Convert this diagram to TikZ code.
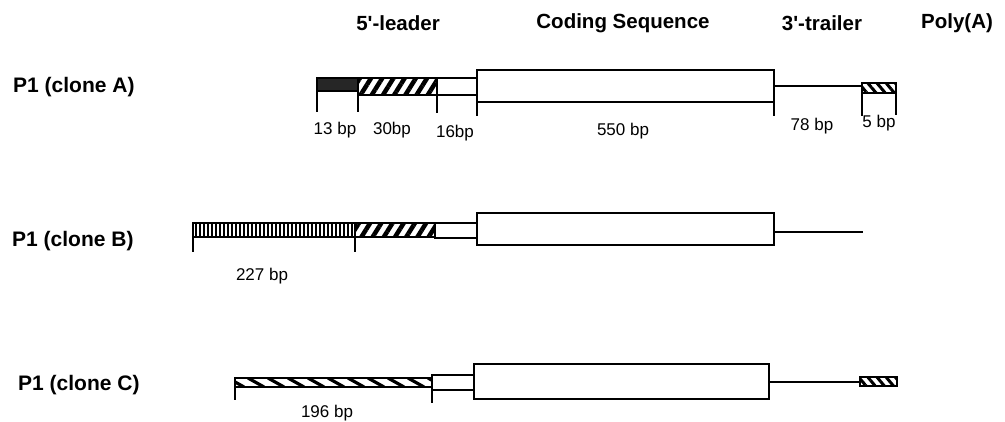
\documentclass[tikz,border=0pt]{standalone}
\usepackage{fontspec}
\newfontfamily\lib{Liberation Sans}
\usetikzlibrary{patterns.meta}
\tikzset{
  seg/.style={draw, line width=2pt, inner sep=0pt, outer sep=0pt, anchor=north west},
  tick/.style={line width=2pt},
  wire/.style={line width=2pt},
  hdr/.style={font=\lib\bfseries\fontsize{20.5}{24}\selectfont, inner sep=0pt, anchor=base},
  rowlab/.style={font=\lib\bfseries\fontsize{21}{25}\selectfont, inner sep=0pt, anchor=base west},
  bplab/.style={font=\lib\fontsize{17}{20}\selectfont, inner sep=0pt, anchor=base},
  dark/.style={fill=black!85},
  diag/.style={pattern={Lines[angle=58,distance=9.5pt,line width=4.5pt]}},
  back/.style={pattern={Lines[angle=-50,distance=7pt,line width=3pt]}},
  stripe/.style={line width=2pt}
}
\begin{document}
\begin{tikzpicture}[x=1pt,y=-1pt]
\useasboundingbox (0,0) rectangle (1005,421);

% headers
\node[hdr] (h1) at (398,30) {5'-leader};
\node[hdr] (h2) at (623,28) {Coding Sequence};
\node[hdr] (h3) at (822,30) {3'-trailer};
\node[hdr] (h4) at (957,28) {Poly(A)};

% row labels
\node[rowlab] (rA) at (13,92) {P1 (clone A)};
\node[rowlab] (rB) at (12,246) {P1 (clone B)};
\node[rowlab] (rC) at (18,390) {P1 (clone C)};

% clone A
\node[seg, dark, minimum width=41, minimum height=13] (a1) at (317,78) {};
\node[seg, diag, minimum width=79, minimum height=17] (a2) at (358,78) {};
\node[seg, minimum width=40, minimum height=17] (a3) at (437,78) {};
\node[seg, minimum width=297, minimum height=32] (a4) at (477,70) {};
\node[seg, back, minimum width=34, minimum height=10] (a5) at (862,83) {};
\draw[wire] (a4.east) -- (a4.east -| a5.west);
\draw[tick] (a1.south west) -- ++(0,21);
\draw[tick] (a2.south west) -- ++(0,17);
\draw[tick] (a3.south west) -- ++(0,18);
\draw[tick] (a4.south west) -- ++(0,14);
\draw[tick] (a4.south east) -- ++(0,14);
\draw[tick] (a5.south west) -- ++(0,23);
\draw[tick] (a5.south east) -- ++(0,22);
\node[bplab] (la1) at (335,134) {13 bp};
\node[bplab] (la2) at (392,134) {30bp};
\node[bplab] (la3) at (455,137) {16bp};
\node[bplab] (la4) at (623,135) {550 bp};
\node[bplab] (la5) at (812,130) {78 bp};
\node[bplab] (la6) at (879,127) {5 bp};

% clone B
\node[seg, minimum width=162, minimum height=14] (b1) at (193,223) {};
\begin{scope}
  \clip (b1.north west) rectangle (b1.south east);
  \foreach \x in {196,200,...,354} \draw[stripe] (\x,223) -- (\x,237);
\end{scope}
\node[seg, minimum width=162, minimum height=14] at (193,223) {};
\node[seg, diag, minimum width=80, minimum height=14] (b2) at (355,223) {};
\node[seg, minimum width=42, minimum height=15] (b3) at (435,223) {};
\node[seg, minimum width=297, minimum height=32] (b4) at (477,213) {};
\coordinate (bE) at (863,232);
\draw[wire] (b4.east |- bE) -- (bE);
\draw[tick] (b1.south west) -- ++(0,15);
\draw[tick] (b2.south west) -- ++(0,15);
\node[bplab] (lb1) at (262,280) {227 bp};

% clone C
\node[seg, minimum width=197, minimum height=9] (c1) at (235,378) {};
\begin{scope}
  \clip (c1.north west) rectangle (c1.south east);
  \foreach \x in {228,248,...,430} \draw[line width=3.2pt] (\x,378) -- (\x+16,387);
\end{scope}
\node[seg, minimum width=197, minimum height=9] at (235,378) {};
\node[seg, minimum width=42, minimum height=15] (c2) at (432,375) {};
\node[seg, minimum width=295, minimum height=35] (c3) at (474,364) {};
\node[seg, back, minimum width=37, minimum height=9] (c4) at (860,377) {};
\draw[wire] (c3.east) -- (c3.east -| c4.west);
\draw[tick] (c1.south west) -- ++(0,13);
\draw[tick] (c2.south west) -- ++(0,13);
\node[bplab] (lc1) at (327,417) {196 bp};
\end{tikzpicture}
\end{document}
